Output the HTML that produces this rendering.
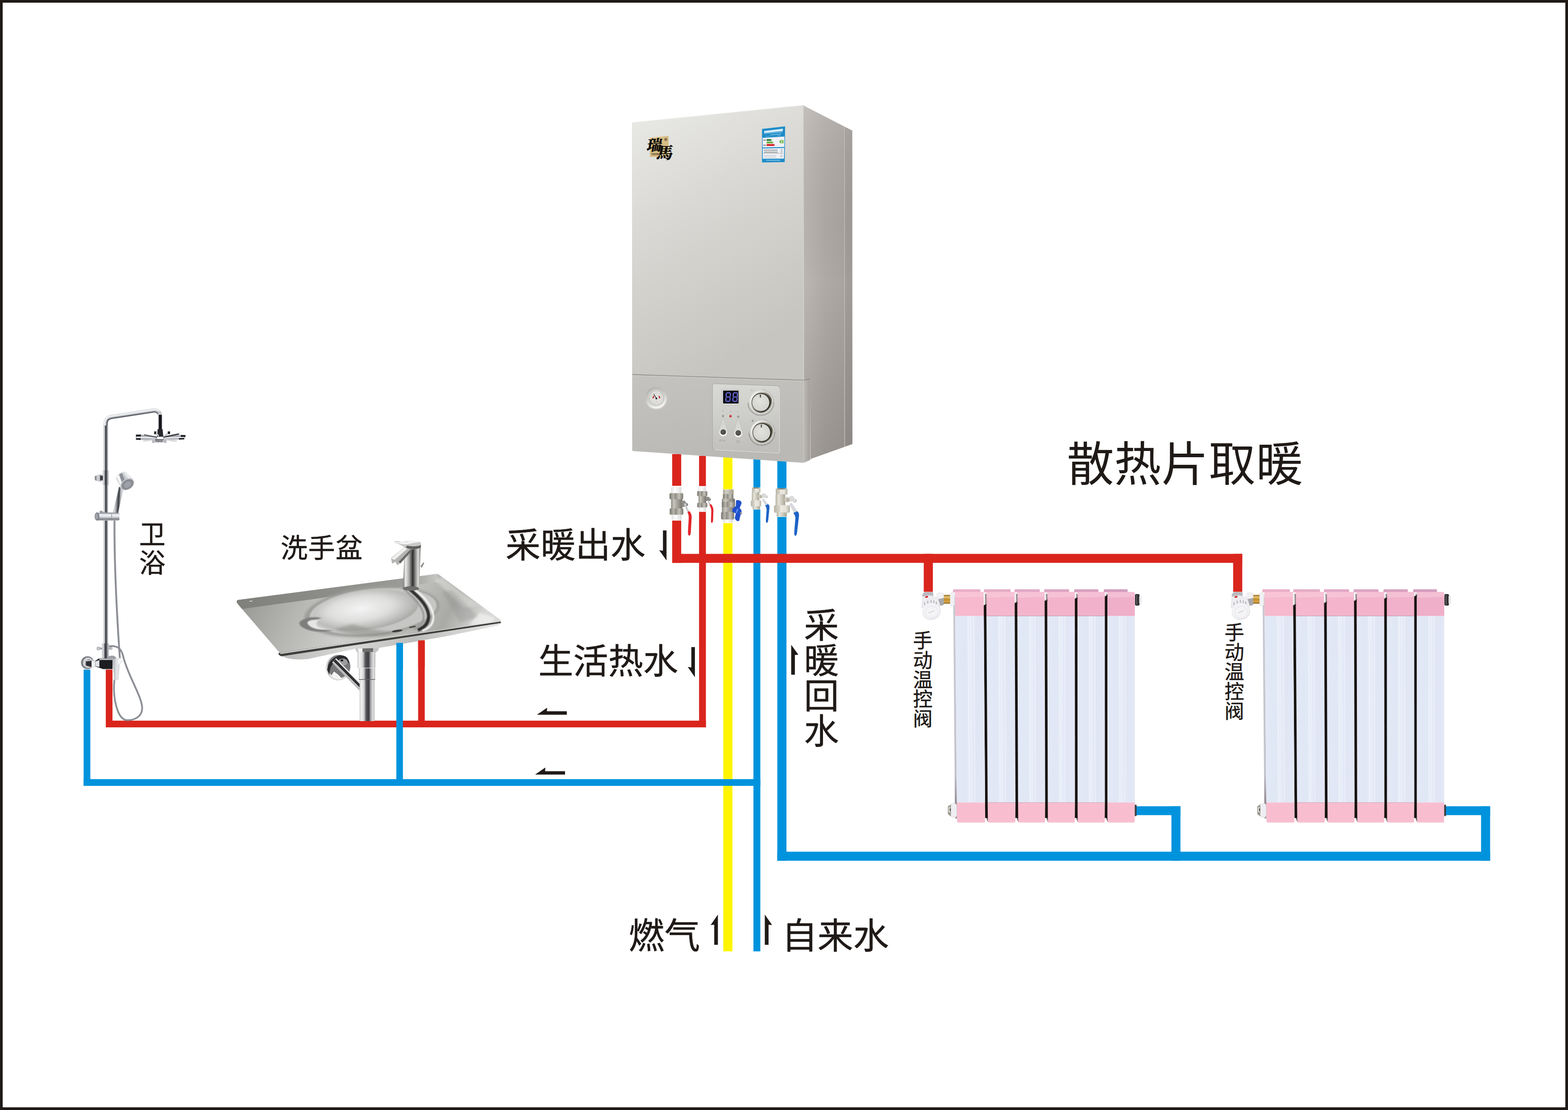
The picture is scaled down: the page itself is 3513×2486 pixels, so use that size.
<!DOCTYPE html>
<html><head><meta charset="utf-8"><title>diagram</title>
<style>html,body{margin:0;padding:0;background:#fff;width:3513px;height:2486px;font-family:"Liberation Sans",sans-serif}svg{display:block}</style>
</head><body>
<svg width="3513" height="2486" viewBox="0 0 3513 2486">
<defs>

<linearGradient id="bfU" x1="0" y1="0" x2="0.35" y2="1">
 <stop offset="0" stop-color="#EAEAE6"/><stop offset="0.45" stop-color="#D8D7D3"/><stop offset="1" stop-color="#C6C5C0"/>
</linearGradient>
<linearGradient id="bfL" x1="0" y1="0" x2="0.3" y2="1">
 <stop offset="0" stop-color="#C4C3BF"/><stop offset="1" stop-color="#BAB9B5"/>
</linearGradient>
<linearGradient id="bsU" x1="0" y1="0" x2="1" y2="0">
 <stop offset="0" stop-color="#BCB7B2"/><stop offset="0.45" stop-color="#AFAAA6"/><stop offset="1" stop-color="#A7A19D"/>
</linearGradient>
<linearGradient id="bsV" x1="0" y1="0" x2="0" y2="1">
 <stop offset="0" stop-color="#fff" stop-opacity="0.12"/><stop offset="0.5" stop-color="#000" stop-opacity="0"/><stop offset="1" stop-color="#000" stop-opacity="0.13"/>
</linearGradient>
<linearGradient id="bsS" x1="0" y1="0" x2="1" y2="0">
 <stop offset="0" stop-color="#BDBAB5"/><stop offset="1" stop-color="#A29E9A"/>
</linearGradient>
<radialGradient id="knobFace" cx="0.45" cy="0.4" r="0.7">
 <stop offset="0" stop-color="#E2E2DE"/><stop offset="1" stop-color="#CFCFCB"/>
</radialGradient>
<linearGradient id="knobRing" x1="0.1" y1="0.2" x2="0.9" y2="0.8">
 <stop offset="0" stop-color="#F4F4F1"/><stop offset="0.3" stop-color="#CFCEC8"/><stop offset="0.55" stop-color="#8A8678"/><stop offset="0.8" stop-color="#5A5648"/><stop offset="1" stop-color="#A9A69B"/>
</linearGradient>
<linearGradient id="knobIn" x1="0" y1="0" x2="1" y2="0.6">
 <stop offset="0" stop-color="#77746A"/><stop offset="0.45" stop-color="#4A473E"/><stop offset="1" stop-color="#2E2C26"/>
</linearGradient>
<radialGradient id="gaugeRec" cx="0.5" cy="0.45" r="0.5">
 <stop offset="0.55" stop-color="#C9C9C5"/><stop offset="0.85" stop-color="#D8D8D5"/><stop offset="1" stop-color="#BEBDB9" stop-opacity="0"/>
</radialGradient>
<linearGradient id="gaugeRecL" x1="0.2" y1="0" x2="0.6" y2="1">
 <stop offset="0" stop-color="#A3A29E"/><stop offset="0.45" stop-color="#C8C8C4"/><stop offset="0.8" stop-color="#F1F1EF"/><stop offset="1" stop-color="#FFFFFF"/>
</linearGradient>
<linearGradient id="btnRec" x1="0" y1="0" x2="0" y2="1">
 <stop offset="0" stop-color="#D0D0CC"/><stop offset="0.55" stop-color="#D8D8D5"/><stop offset="0.85" stop-color="#ECECEA"/><stop offset="1" stop-color="#FAFAF9"/>
</linearGradient>

<linearGradient id="panelG" x1="0" y1="0" x2="0.15" y2="1"><stop offset="0" stop-color="#D9D9D6"/><stop offset="0.5" stop-color="#CECECA"/><stop offset="1" stop-color="#C0BFBB"/></linearGradient>
<linearGradient id="gold" x1="0" y1="0" x2="1" y2="1"><stop offset="0" stop-color="#E3CB94"/><stop offset="0.5" stop-color="#D6BC84"/><stop offset="1" stop-color="#DCC58F"/></linearGradient>
<filter id="glow" x="-20%" y="-20%" width="140%" height="140%"><feGaussianBlur stdDeviation="0.45"/></filter>
<filter id="blur1" x="-20%" y="-20%" width="140%" height="140%"><feGaussianBlur stdDeviation="1.6"/></filter>
<filter id="blur2" x="-20%" y="-20%" width="140%" height="140%"><feGaussianBlur stdDeviation="2.2"/></filter>

<linearGradient id="stl" x1="0" y1="0" x2="1" y2="0">
 <stop offset="0" stop-color="#8B8981"/><stop offset="0.25" stop-color="#C9C7BE"/><stop offset="0.5" stop-color="#A9A79E"/><stop offset="0.78" stop-color="#8F8D85"/><stop offset="1" stop-color="#6E6C64"/>
</linearGradient>
<linearGradient id="stlN" x1="0" y1="0" x2="1" y2="0">
 <stop offset="0" stop-color="#77756D"/><stop offset="0.3" stop-color="#B9B7AE"/><stop offset="0.42" stop-color="#8D8B83"/><stop offset="0.7" stop-color="#C4C2B8"/><stop offset="1" stop-color="#77756D"/>
</linearGradient>
<linearGradient id="nik" x1="0" y1="0" x2="1" y2="0">
 <stop offset="0" stop-color="#B4B0A0"/><stop offset="0.3" stop-color="#E6E4DA"/><stop offset="0.6" stop-color="#CFCCBE"/><stop offset="1" stop-color="#A9A595"/>
</linearGradient>
<linearGradient id="nikN" x1="0" y1="0" x2="1" y2="0">
 <stop offset="0" stop-color="#B9B5A6"/><stop offset="0.38" stop-color="#D9D6CA"/><stop offset="0.4" stop-color="#ECEAE2"/><stop offset="0.75" stop-color="#E3E1D8"/><stop offset="1" stop-color="#B4B0A0"/>
</linearGradient>
<linearGradient id="wht" x1="0" y1="0" x2="1" y2="0">
 <stop offset="0" stop-color="#E4E4E4"/><stop offset="0.4" stop-color="#FFFFFF"/><stop offset="1" stop-color="#DADADA"/>
</linearGradient>

<linearGradient id="radBody" x1="0" y1="0" x2="1" y2="0">
 <stop offset="0" stop-color="#E3E9F6"/><stop offset="0.35" stop-color="#E0E7F5"/><stop offset="0.5" stop-color="#E6ECF8"/><stop offset="0.7" stop-color="#E0E6F4"/><stop offset="1" stop-color="#E2E8F5"/>
</linearGradient>
<linearGradient id="radSide" x1="0" y1="0" x2="0" y2="1">
 <stop offset="0" stop-color="#C9CAD2"/><stop offset="0.8" stop-color="#C3C3CC"/><stop offset="0.95" stop-color="#8E8088"/><stop offset="1" stop-color="#B0A6AC"/>
</linearGradient>
<linearGradient id="brass" x1="0" y1="0" x2="0" y2="1">
 <stop offset="0" stop-color="#8E6420"/><stop offset="0.25" stop-color="#E9C774"/><stop offset="0.5" stop-color="#C08A2A"/><stop offset="0.8" stop-color="#D9A84A"/><stop offset="1" stop-color="#7A5418"/>
</linearGradient>

<linearGradient id="chr" x1="0" y1="0" x2="1" y2="0">
 <stop offset="0" stop-color="#A9ACB1"/><stop offset="0.18" stop-color="#E6E7EA"/><stop offset="0.36" stop-color="#6F7278"/><stop offset="0.56" stop-color="#26282C"/><stop offset="0.72" stop-color="#7D8086"/><stop offset="1" stop-color="#C9CBD0"/>
</linearGradient>
<linearGradient id="chrH" x1="0" y1="0" x2="0" y2="1">
 <stop offset="0" stop-color="#8D9096"/><stop offset="0.25" stop-color="#F4F5F7"/><stop offset="0.55" stop-color="#D5D7DB"/><stop offset="0.8" stop-color="#7B7E84"/><stop offset="1" stop-color="#B9BBC0"/>
</linearGradient>
<linearGradient id="chrD" x1="0" y1="0" x2="1" y2="0">
 <stop offset="0" stop-color="#E9EAED"/><stop offset="0.3" stop-color="#F7F7F9"/><stop offset="0.45" stop-color="#2A2C30"/><stop offset="0.8" stop-color="#17181B"/><stop offset="1" stop-color="#6B6E74"/>
</linearGradient>

<linearGradient id="hsBody" x1="0" y1="0.8" x2="1" y2="0.2">
 <stop offset="0" stop-color="#9A9DA3"/><stop offset="0.25" stop-color="#F7F8F9"/><stop offset="0.5" stop-color="#B5B8BD"/><stop offset="0.75" stop-color="#F1F2F4"/><stop offset="1" stop-color="#A2A5AB"/>
</linearGradient>
<linearGradient id="hnd" x1="0" y1="0" x2="1" y2="0.12">
 <stop offset="0" stop-color="#9DA0A6"/><stop offset="0.25" stop-color="#DADBDF"/><stop offset="0.45" stop-color="#7B7E84"/><stop offset="0.62" stop-color="#33353A"/><stop offset="0.78" stop-color="#B9BBC0"/><stop offset="1" stop-color="#E9EAED"/>
</linearGradient>
<linearGradient id="lev" x1="0" y1="0" x2="1" y2="0">
 <stop offset="0" stop-color="#A9ACB2"/><stop offset="0.45" stop-color="#E6E7EA"/><stop offset="1" stop-color="#C3C5CA"/>
</linearGradient>

<linearGradient id="skTop" x1="0" y1="0" x2="1" y2="0.15">
 <stop offset="0" stop-color="#858582"/><stop offset="0.1" stop-color="#9C9C99"/><stop offset="0.28" stop-color="#B4B4B1"/><stop offset="0.5" stop-color="#CFCFCD"/><stop offset="0.72" stop-color="#BDBDBA"/><stop offset="0.86" stop-color="#A9A9A6"/><stop offset="1" stop-color="#D9D9D7"/>
</linearGradient>
<linearGradient id="skBack" x1="0" y1="0" x2="1" y2="0">
 <stop offset="0" stop-color="#7F7F7C"/><stop offset="0.5" stop-color="#8E8E8B"/><stop offset="0.85" stop-color="#9B9B98"/><stop offset="1" stop-color="#C9C9C7"/>
</linearGradient>
<radialGradient id="skBowlO" cx="0.5" cy="0.5" r="0.5">
 <stop offset="0.7" stop-color="#D9D9D7"/><stop offset="0.88" stop-color="#B3B3B0"/><stop offset="1" stop-color="#C8C8C5" stop-opacity="0"/>
</radialGradient>
<radialGradient id="skBowlI" cx="0.45" cy="0.45" r="0.6">
 <stop offset="0" stop-color="#F4F4F4"/><stop offset="0.5" stop-color="#DEDEDD"/><stop offset="0.82" stop-color="#B9B9B7"/><stop offset="1" stop-color="#A0A09D"/>
</radialGradient>
<linearGradient id="skFront" x1="0" y1="0" x2="1" y2="0">
 <stop offset="0" stop-color="#A9A9A6"/><stop offset="0.4" stop-color="#E4E4E2"/><stop offset="0.7" stop-color="#8A8A87"/><stop offset="1" stop-color="#5A5A58"/>
</linearGradient>
<linearGradient id="fauc" x1="0" y1="0" x2="1" y2="0">
 <stop offset="0" stop-color="#6B6B69"/><stop offset="0.15" stop-color="#ECECEB"/><stop offset="0.35" stop-color="#A9A9A7"/><stop offset="0.55" stop-color="#2F2F2E"/><stop offset="0.7" stop-color="#8A8A88"/><stop offset="0.86" stop-color="#E0E0DF"/><stop offset="1" stop-color="#7A7A78"/>
</linearGradient>
<linearGradient id="drain" x1="0" y1="0" x2="1" y2="0">
 <stop offset="0" stop-color="#C9C9C9"/><stop offset="0.12" stop-color="#F4F4F4"/><stop offset="0.3" stop-color="#D2D2D2"/><stop offset="0.44" stop-color="#56565A"/><stop offset="0.62" stop-color="#3C3C40"/><stop offset="0.74" stop-color="#A9A9AB"/><stop offset="0.9" stop-color="#E2E2E2"/><stop offset="1" stop-color="#B5B5B5"/>
</linearGradient>
<filter id="skBlur" x="-10%" y="-10%" width="120%" height="120%"><feGaussianBlur stdDeviation="2.5"/></filter>
<filter id="skBlur1" x="-10%" y="-10%" width="120%" height="120%"><feGaussianBlur stdDeviation="1.2"/></filter>
<clipPath id="skClip"><path d="M534 1343.6 L977.2 1285.6 Q981 1285.2 984 1287.6 L1119.6 1387 Q1123.4 1390 1119 1391.4 L630 1461.6 Q625.6 1462 623.4 1458.6 L530.8 1350.4 Q528.6 1344.6 534 1343.6 Z"/></clipPath>

<linearGradient id="skUnder" x1="0" y1="0" x2="1" y2="0">
 <stop offset="0" stop-color="#B9B9B7"/><stop offset="0.3" stop-color="#D9D9D7"/><stop offset="0.6" stop-color="#BDBDBB"/><stop offset="1" stop-color="#E6E6E4"/>
</linearGradient>
<linearGradient id="drainD" x1="0" y1="0" x2="1" y2="0">
 <stop offset="0" stop-color="#D9D9D7"/><stop offset="0.5" stop-color="#A3A3A1"/><stop offset="1" stop-color="#EDEDEC"/>
</linearGradient>

</defs>
<rect x="0" y="0" width="3513" height="2486" fill="#fff"/>
<rect x="1620.50" y="1023.00" width="20.50" height="1107.70" fill="#FFF500" /><rect x="1688.00" y="1027.00" width="15.50" height="1103.70" fill="#0093DD" /><rect x="187.40" y="1745.00" width="1516.10" height="15.00" fill="#0093DD" /><rect x="187.40" y="1499.70" width="15.00" height="260.30" fill="#0093DD" /><rect x="1741.50" y="1031.00" width="20.50" height="896.70" fill="#0093DD" /><rect x="1741.50" y="1907.50" width="1597.00" height="20.20" fill="#0093DD" /><rect x="2546.00" y="1805.70" width="98.70" height="19.90" fill="#0093DD" /><rect x="2624.50" y="1805.70" width="20.20" height="122.00" fill="#0093DD" /><rect x="3239.00" y="1805.70" width="99.50" height="19.90" fill="#0093DD" /><rect x="3318.20" y="1805.70" width="20.30" height="122.00" fill="#0093DD" /><rect x="1506.00" y="1017.00" width="20.20" height="243.50" fill="#DA251D" /><rect x="1506.00" y="1240.50" width="1277.20" height="20.10" fill="#DA251D" /><rect x="2069.60" y="1240.50" width="20.40" height="85.00" fill="#DA251D" /><rect x="2762.80" y="1240.50" width="20.40" height="85.00" fill="#DA251D" /><rect x="1566.20" y="1021.00" width="15.30" height="608.00" fill="#DA251D" /><rect x="237.00" y="1614.00" width="1344.50" height="15.00" fill="#DA251D" /><rect x="936.80" y="1434.30" width="14.80" height="194.70" fill="#DA251D" /><rect x="237.00" y="1499.70" width="15.00" height="129.30" fill="#DA251D" /><rect x="888.00" y="1439.80" width="14.70" height="320.20" fill="#0093DD" /><path d="M1799 235.7 L1909.5 292.5 L1909.8 994.5 L1816 1028 L1814.8 848.6 L1800.6 851 Z" fill="url(#bsU)"/><path d="M1799 235.7 L1909.5 292.5 L1909.8 994.5 L1816 1028 L1814.8 848.6 L1800.6 851 Z" fill="url(#bsV)"/><path d="M1892.4 284 V1000.5" stroke="#C9C5C1" stroke-width="1.3" fill="none"/><path d="M1893.6 284.5 V1000" stroke="#9C9793" stroke-width="1" fill="none" opacity="0.6"/><path d="M1893 284 L1909.5 292.5 L1909.8 994.5 L1893 1000.5 Z" fill="#000" opacity="0.035"/><path d="M1800.6 851 L1814.8 848.6 L1815.4 1030 L1800.6 1036.6 Z" fill="url(#bsS)"/><path d="M1416 274.5 L1799 235.7 L1800.6 851.4 L1416 838.7 Z" fill="url(#bfU)"/><path d="M1416 274.5 L1799 235.7" stroke="#EFEFEC" stroke-width="1.2" fill="none"/><path d="M1799.6 237 L1800.6 851" stroke="#D9D7D2" stroke-width="1.4" fill="none"/><path d="M1416 839 L1800.6 851.6 L1800.6 1036.6 L1419 1010.2 Q1416.2 1010 1416.2 1007 Z" fill="url(#bfL)"/><path d="M1416 838.9 L1800.6 851.5 L1814.8 848.9" stroke="#8C8A86" stroke-width="1.6" fill="none"/><path d="M1416 840.6 L1800.6 853.2" stroke="#D4D3CF" stroke-width="1.2" fill="none" opacity="0.8"/><path d="M1416.5 276 V1008" stroke="#DCDBD7" stroke-width="1" fill="none" opacity="0.7"/><path d="M1455.8 308.5 L1497.9 304.3 L1498.1 351.1 L1456 351.6 Z" fill="url(#gold)"/><g fill="#0B0906" stroke="#0B0906" stroke-width="0.8" stroke-linejoin="round" font-family="&quot;Liberation Serif&quot;, &quot;Noto Serif CJK SC&quot;, serif" font-weight="bold"><text x="1448" y="337" font-size="33" transform="translate(1448,337) skewX(-10) translate(-1448,-337)">瑞</text><text x="1470" y="355.5" font-size="36" transform="translate(1470,355.5) skewX(-10) translate(-1470,-355.5)">馬</text></g><circle cx="1491.7" cy="312.4" r="2.9" fill="none" stroke="#1a1509" stroke-width="0.7"/><text x="1490.1" y="314" font-family="Liberation Sans" font-size="4.2" font-weight="bold" fill="#1a1509">R</text><text x="1459" y="346.6" font-family="Liberation Serif" font-size="6.4" font-weight="bold" fill="#1a1509" textLength="20" lengthAdjust="spacingAndGlyphs">VOOMA</text><rect x="1461" y="348" width="14" height="0.6" fill="#C8502A" opacity="0.7"/><path d="M1707.3 288.8 L1759 282.9 L1758.1 363.1 L1707.3 363.8 Z" fill="#1E8CC8"/><path d="M1708.6 308.8 L1757.4 305.8 L1757.2 329.3 L1708.7 330.3 Z" fill="#EFF1F6"/><path d="M1708.8 332.6 L1756.9 331.6 L1756.5 355.2 L1709 355.6 Z" fill="#EFF1F6"/><path d="M1712 293.5 L1754 288.3 L1754 293.3 L1712 297.8 Z" fill="#E8F4FB" opacity="0.95"/><path d="M1712 298.6 L1753 294.6 L1753 296 L1712 299.8 Z" fill="#BEE0F2" opacity="0.8"/><path d="M1726 301.6 L1750 299.2 L1750 300.8 L1726 303 Z" fill="#BEE0F2" opacity="0.7"/><path d="M1716 305.2 L1725 304.4 L1725 305.4 L1716 306.2 Z M1742 303 L1749 302.4 L1749 303.6 L1742 304.2Z" fill="#BEE0F2" opacity="0.6"/><path d="M1717.6 311.6 H1727.2 L1729.2 313.6 L1727.2 315.6 H1717.6 Z" fill="#2F7A45"/><path d="M1717.6 317 H1730.8 L1732.8 319 L1730.8 321 H1717.6 Z" fill="#6DB33F"/><path d="M1717.6 322.6 H1734 L1736 324.8 L1734 327 H1717.6 Z" fill="#D62B2B"/><rect x="1710.3" y="313.2" width="5.6" height="1.2" fill="#333"/><rect x="1710.3" y="324.6" width="5.6" height="1.2" fill="#333"/><path d="M1745.3 317.5 L1749 313.8 H1755.3 V321 H1749 Z" fill="#6DB33F"/><text x="1749.2" y="320.3" font-family="Liberation Sans" font-size="7" font-weight="bold" fill="#fff">2</text><rect x="1711.3" y="335.6" width="31" height="1.5" fill="#555" opacity="0.75"/><rect x="1749.3" y="335.0" width="3.6" height="1.5" fill="#555" opacity="0.75"/><rect x="1711.3" y="339.9" width="31" height="1.5" fill="#555" opacity="0.75"/><rect x="1749.3" y="339.29999999999995" width="3.6" height="1.5" fill="#555" opacity="0.75"/><rect x="1710.3" y="342.9" width="44.5" height="0.6" fill="#666"/><rect x="1711.3" y="347.8" width="28" height="1.1" fill="#999" opacity="0.6"/><rect x="1748.3" y="347.2" width="5" height="1.1" fill="#777" opacity="0.7"/><rect x="1711.3" y="351.2" width="28" height="1.1" fill="#999" opacity="0.6"/><rect x="1748.3" y="350.59999999999997" width="5" height="1.1" fill="#777" opacity="0.7"/><rect x="1716.5" y="358.3" width="31.5" height="1.3" fill="#CDE9F7" opacity="0.85"/><path d="M1601.5 859.4 L1741 863.9 Q1746.3 864.1 1746.3 869.5 L1746.3 1009.5 Q1746.3 1015 1741 1014.7 L1601.5 1007.4 Q1596.2 1007.1 1596.2 1001.7 L1596.2 864.8 Q1596.2 859.2 1601.5 859.4 Z" fill="url(#panelG)" stroke="#A3A29E" stroke-width="1"/><path d="M1601.5 1007.4 L1741 1014.7 Q1746.3 1015 1746.3 1009.5 L1746.3 869.5" fill="none" stroke="#E6E6E3" stroke-width="1.1"/><rect x="1617.6" y="872.2" width="38.2" height="34.8" rx="1.5" fill="#E3E3E1"/><rect x="1617.6" y="872.2" width="38.2" height="34.8" rx="1.5" fill="none" stroke="#A8A8A4" stroke-width="0.7"/><rect x="1620" y="874.8" width="34.6" height="29" rx="1" fill="#0B0B12"/><g filter="url(#glow)"><g fill="#7A7CFF" transform="translate(1626.4,878.8) skewX(-4)"><rect x="1.40" y="0.00" width="8.40" height="2.00" rx="1.00"/><rect x="1.40" y="9.50" width="8.40" height="2.00" rx="1.00"/><rect x="1.40" y="19.00" width="8.40" height="2.00" rx="1.00"/><rect x="0.00" y="1.20" width="2.00" height="8.70" rx="1.00"/><rect x="0.00" y="11.10" width="2.00" height="8.70" rx="1.00"/><rect x="9.20" y="1.20" width="2.00" height="8.70" rx="1.00"/><rect x="9.20" y="11.10" width="2.00" height="8.70" rx="1.00"/></g><g fill="#7A7CFF" transform="translate(1642.2,878.8) skewX(-4)"><rect x="1.40" y="0.00" width="8.40" height="2.00" rx="1.00"/><rect x="1.40" y="9.50" width="8.40" height="2.00" rx="1.00"/><rect x="1.40" y="19.00" width="8.40" height="2.00" rx="1.00"/><rect x="0.00" y="1.20" width="2.00" height="8.70" rx="1.00"/><rect x="0.00" y="11.10" width="2.00" height="8.70" rx="1.00"/><rect x="9.20" y="1.20" width="2.00" height="8.70" rx="1.00"/><rect x="9.20" y="11.10" width="2.00" height="8.70" rx="1.00"/></g></g><path d="M1675.72 902.42 A29.2 29.2 0 0 0 1699.83 930.16" stroke="#8F8E8A" stroke-width="1.6" fill="none"/><path d="M1700.92 929.72 A28.599999999999998 28.599999999999998 0 0 0 1733.48 900.40" stroke="#7D7C78" stroke-width="2.6" stroke-dasharray="0.9 0.9" fill="none"/><path d="M1733.99 898.86 A29.2 29.2 0 0 0 1707.44 872.31" stroke="#A5A4A0" stroke-width="0.9" fill="none"/><circle cx="1705.2" cy="900.1999999999999" r="25" fill="url(#knobRing)"/><circle cx="1705.2" cy="900.1999999999999" r="25" fill="none" stroke="#F2F2EF" stroke-width="1.1" opacity="0.85"/><circle cx="1705.3000000000002" cy="901.0" r="21.6" fill="url(#knobIn)"/><circle cx="1704.4" cy="901.6" r="19.2" fill="url(#knobFace)"/><rect x="1702.5" y="883.8" width="2.3" height="6.4" fill="#3F3E39"/><path d="M1677.82 969.62 A29.2 29.2 0 0 0 1701.93 997.36" stroke="#8F8E8A" stroke-width="1.6" fill="none"/><path d="M1703.02 996.92 A28.599999999999998 28.599999999999998 0 0 0 1735.58 967.60" stroke="#7D7C78" stroke-width="2.6" stroke-dasharray="0.9 0.9" fill="none"/><path d="M1736.09 966.06 A29.2 29.2 0 0 0 1709.54 939.51" stroke="#A5A4A0" stroke-width="0.9" fill="none"/><circle cx="1707.3" cy="967.4" r="25" fill="url(#knobRing)"/><circle cx="1707.3" cy="967.4" r="25" fill="none" stroke="#F2F2EF" stroke-width="1.1" opacity="0.85"/><circle cx="1707.4" cy="968.2" r="21.6" fill="url(#knobIn)"/><circle cx="1706.5" cy="968.8000000000001" r="19.2" fill="url(#knobFace)"/><rect x="1704.6" y="951.0" width="2.3" height="6.4" fill="#3F3E39"/><path d="M1681.5 874.5 q2 -1.5 4 0 l1.8 1.2" stroke="#8B8A86" stroke-width="0.8" fill="none"/><path d="M1684.5 941.2 h4 M1684.2 942.6 h4 M1683.9 944 h4" stroke="#7B7A76" stroke-width="0.8" fill="none"/><circle cx="1619.3" cy="920.6" r="1.4" fill="#B3B3AF"/><circle cx="1636.6" cy="921.4" r="1.4" fill="#B3B3AF"/><circle cx="1652.6" cy="922.2" r="1.4" fill="#B3B3AF"/><circle cx="1619.6" cy="931.3" r="2.4" fill="#7D7C76"/><circle cx="1619" cy="930.6" r="1.1" fill="#EDEDE8"/><circle cx="1636.6" cy="931.9" r="2.6" fill="#C8201E"/><circle cx="1636" cy="931.2" r="0.9" fill="#F5A49A"/><circle cx="1653.7" cy="933" r="2.4" fill="#7D7C76"/><circle cx="1653.1" cy="932.3" r="1.1" fill="#EDEDE8"/><path d="M1618.1 936.6 Q1620.3 934.1 1622.5 936.6 Q1625.8 953.6 1629.3 964.6 A9.6 9.6 0 1 1 1611.3 964.6 Q1614.8 953.6 1618.1 936.6 Z" fill="url(#btnRec)" stroke="#B9B8B4" stroke-width="0.6"/><circle cx="1620.3" cy="967.6" r="6.2" fill="#4B4946"/><circle cx="1619.5" cy="966.6" r="4.2" fill="#5A5855"/><path d="M1651.7 938.7 Q1653.9 936.2 1656.1000000000001 938.7 Q1659.4 955.7 1662.9 966.7 A9.6 9.6 0 1 1 1644.9 966.7 Q1648.4 955.7 1651.7 938.7 Z" fill="url(#btnRec)" stroke="#B9B8B4" stroke-width="0.6"/><circle cx="1653.9" cy="969.7" r="6.2" fill="#4B4946"/><circle cx="1653.1000000000001" cy="968.7" r="4.2" fill="#5A5855"/><circle cx="1613.7" cy="986.6" r="1.9" fill="none" stroke="#8A8985" stroke-width="0.6"/><path d="M1616.8 989 l1.6 -4.8" stroke="#8A8985" stroke-width="0.6"/><circle cx="1622.6" cy="986.9" r="1.5" fill="none" stroke="#8A8985" stroke-width="0.6"/><path d="M1651.6 986.3 a3 3 0 1 0 4.2 0.2 M1653.7 984.4 v3.4" stroke="#8A8985" stroke-width="0.7" fill="none"/><circle cx="1469.8" cy="891.8" r="23.8" fill="url(#gaugeRecL)" filter="url(#blur1)"/><circle cx="1469.9" cy="890.6" r="19.6" fill="#CDCDC9" filter="url(#blur1)"/><circle cx="1470.6" cy="891.5" r="15.6" fill="#A9A8A3"/><circle cx="1470.6" cy="891.5" r="14.9" fill="#EDEDEA"/><circle cx="1470.6" cy="891.5" r="12.6" fill="#B9B8B3"/><circle cx="1470.6" cy="891.5" r="11.8" fill="#E1E1DE"/><path d="M1463.01 892.10 A7.6 7.6 0 0 1 1465.23 887.13" stroke="#C21B1B" stroke-width="2.4" fill="none"/><path d="M1475.97 887.13 A7.6 7.6 0 0 1 1478.19 892.10" stroke="#C21B1B" stroke-width="2.4" fill="none"/><path d="M1470.9 892.6 L1464.6 882.6" stroke="#1E1E1E" stroke-width="1.3"/><circle cx="1470.6" cy="892.4" r="2" fill="#1E1E1E"/><rect x="1469.3" y="898.3" width="2.2" height="0.8" fill="#C65B5B"/><rect x="1503" y="1088" width="27.00" height="78.00" rx="0" fill="#fff"/><rect x="1503.2" y="1091" width="23.60" height="15.00" rx="2" fill="url(#wht)"/><rect x="1504.6" y="1151" width="22.60" height="14.60" rx="2" fill="url(#wht)"/><rect x="1503.5" y="1116" width="25.30" height="24.00" rx="2" fill="url(#stl)"/><rect x="1500" y="1104.4" width="30.60" height="13.80" rx="2.5" fill="url(#stlN)"/><rect x="1500.4" y="1138.4" width="30.60" height="14.40" rx="2.5" fill="url(#stlN)"/><path d="M1526 1122 L1534 1121 L1537 1126 V1134 L1528 1136 Z" fill="#8F8D85"/><circle cx="1537.5" cy="1130" r="3.6" fill="#6B6962"/><circle cx="1537" cy="1129.2" r="1.6" fill="#D9D7CF"/><path d="M1532 1128.5 L1535.6 1127 L1544.5 1146 L1540.6 1148.5 Z" fill="#C9CBCE"/><path d="M1540.3 1147.6 L1544.4 1144.6 Q1549.8 1151 1549.7 1158 L1547.6 1194 Q1546.6 1200.6 1543.4 1199.4 Q1541 1198 1541.4 1190 L1543 1160 Q1543.3 1153 1540.3 1147.6 Z" fill="#E3262B"/><rect x="1563.5" y="1088.6" width="21.00" height="57.80" rx="0" fill="#fff"/><rect x="1564.2" y="1090.5" width="17.60" height="11.00" rx="1.6" fill="url(#wht)"/><rect x="1565.6" y="1135.4" width="16.00" height="9.80" rx="1.6" fill="url(#wht)"/><rect x="1565" y="1110" width="17.00" height="17.40" rx="1.5" fill="url(#stl)"/><rect x="1562" y="1100" width="22.70" height="11.20" rx="2" fill="url(#stlN)"/><rect x="1562" y="1126.2" width="22.70" height="10.20" rx="2" fill="url(#stlN)"/><path d="M1581 1112 L1589 1113 L1591 1118 L1590 1122 L1582 1122 Z" fill="#8F8D85"/><circle cx="1589.6" cy="1118.4" r="2.7" fill="#6B6962"/><circle cx="1589.2" cy="1117.8" r="1.2" fill="#D9D7CF"/><path d="M1584.6 1121.5 L1588 1120.5 L1593 1130 L1589.8 1131.8 Z" fill="#C9CBCE"/><path d="M1589.4 1131 L1592.8 1128.8 Q1598.6 1136 1598.3 1143 L1597.6 1166 Q1596.6 1172 1594.2 1171 Q1592.4 1169.8 1593 1163 L1593.6 1144 Q1593.4 1137 1589.4 1131 Z" fill="#E3262B"/><rect x="1615" y="1095.8" width="32.00" height="75.80" rx="0" fill="#fff"/><rect x="1620" y="1096" width="23.60" height="11.00" rx="1" fill="url(#nik)"/><rect x="1620" y="1098.3" width="23.6" height="0.8" fill="#8E8C82" opacity="0.7"/><rect x="1620" y="1100.5" width="23.6" height="0.8" fill="#8E8C82" opacity="0.7"/><rect x="1620" y="1102.7" width="23.6" height="0.8" fill="#8E8C82" opacity="0.7"/><rect x="1620" y="1104.9" width="23.6" height="0.8" fill="#8E8C82" opacity="0.7"/><rect x="1619.6" y="1106.4" width="23.40" height="11.00" rx="1" fill="url(#stlN)"/><rect x="1620.2" y="1161.6" width="22.00" height="8.80" rx="1.5" fill="url(#wht)"/><rect x="1617.3" y="1116.6" width="29.30" height="32.40" rx="2.5" fill="url(#stl)"/><rect x="1617.3" y="1124" width="29.30" height="12.00" rx="1" fill="url(#stlN)"/><rect x="1615.5" y="1146.6" width="29.30" height="16.80" rx="3" fill="url(#stlN)"/><path d="M1649 1121 Q1653 1118.6 1660 1122.5 L1661.6 1127 L1657 1138 L1660.6 1141.4 L1662.4 1150 L1659 1153.6 L1656 1166.4 Q1653 1168.4 1648.6 1165 L1646.2 1160 L1648.5 1150 L1640.8 1146 L1641.4 1139.5 L1648.6 1133.5 Z" fill="#1F4FCB"/><path d="M1651.6 1139 L1655 1140.4 L1651 1149.5 L1647.6 1148 Z" fill="#5C86EE"/><circle cx="1660" cy="1149" r="2.4" fill="#9A9890"/><rect x="1682" y="1091.6" width="24.00" height="49.60" rx="0" fill="#fff"/><rect x="1684.8" y="1092.2" width="18.80" height="11.20" rx="1.5" fill="url(#nikN)"/><rect x="1684.4" y="1102.6" width="16.80" height="19.40" rx="1.5" fill="url(#nik)"/><rect x="1682.2" y="1120.4" width="23.20" height="14.20" rx="2.5" fill="url(#nikN)"/><rect x="1686" y="1133.8" width="17.00" height="7.00" rx="1.5" fill="url(#nik)"/><ellipse cx="1694" cy="1092.8" rx="7.6" ry="1.2" fill="#7E7A6C"/><circle cx="1703.8" cy="1112" r="4.6" fill="#D4D1C5"/><circle cx="1704.6" cy="1112.4" r="3.2" fill="#B9B5A7"/><path d="M1706.8 1106 L1713 1104.6 L1716.8 1109 L1714.4 1114 L1708 1115 Z" fill="#DADADA"/><circle cx="1717" cy="1112.4" r="3" fill="#C8C8C8"/><circle cx="1716.4" cy="1111.6" r="1.3" fill="#F6F6F6"/><path d="M1706.6 1118.4 L1710.6 1116.6 L1721.6 1129.6 L1715.6 1132.4 Z" fill="#D6D8DC"/><path d="M1714.2 1132.2 L1720.8 1129 Q1724.4 1131.4 1724 1137 L1721 1166 Q1719.6 1172 1717.4 1171 Q1715.6 1169.6 1716 1163 L1717.6 1142 Q1717.4 1136 1714.2 1132.2 Z" fill="#1E63C6"/><rect x="1734" y="1093.4" width="36.00" height="64.40" rx="0" fill="#fff"/><rect x="1738" y="1094" width="26.20" height="14.00" rx="2" fill="url(#nikN)"/><rect x="1737.6" y="1107" width="21.80" height="26.40" rx="2" fill="url(#nik)"/><rect x="1734" y="1131.4" width="35.80" height="17.20" rx="3.5" fill="url(#nikN)"/><rect x="1740" y="1147.6" width="22.80" height="9.60" rx="2" fill="url(#nik)"/><ellipse cx="1751" cy="1094.8" rx="10.4" ry="1.5" fill="#7E7A6C"/><circle cx="1764" cy="1119" r="6.2" fill="#D4D1C5"/><circle cx="1765" cy="1119.6" r="4.4" fill="#B9B5A7"/><path d="M1768.4 1112 L1776 1110 L1780 1115.6 L1777.4 1122.6 L1770 1124 Z" fill="#DADADA"/><circle cx="1781" cy="1121.4" r="4" fill="#C8C8C8"/><circle cx="1780.2" cy="1120.4" r="1.7" fill="#F6F6F6"/><path d="M1768 1128.4 L1773.6 1126 L1787 1145.6 L1779 1149.2 Z" fill="#D6D8DC"/><path d="M1777.2 1149 L1786 1145 Q1790.6 1148 1790.2 1155 L1785.6 1194 Q1784 1201 1781.4 1200 Q1779 1198.4 1779.6 1190 L1782 1160 Q1781.6 1153.6 1777.2 1149 Z" fill="#1E63C6"/><g transform="translate(0,0)"><path d="M2135.5 1319.8 H2196.3 L2196.9 1326.4 H2134.7 Z" fill="#E9AFC8"/><path d="M2204.8 1319.8 H2263.9 L2264.5 1326.4 H2204.0 Z" fill="#E6ACC6"/><path d="M2273.5 1319.8 H2329.2 L2329.8 1326.4 H2272.7 Z" fill="#E2A9C4"/><path d="M2339.9 1319.8 H2395.1 L2395.7 1326.4 H2339.1 Z" fill="#DDA5C2"/><path d="M2406.9 1319.8 H2460.5 L2461.1 1326.4 H2406.1 Z" fill="#D8A1C0"/><path d="M2473.4 1319.8 H2526.0 L2526.6 1326.4 H2472.6 Z" fill="#D39DBE"/><path d="M2135.5 1337 L2139.7 1333 L2144.2 1834.3 L2139.6 1832.3 Z" fill="url(#radSide)"/><path d="M2203.8 1352 L2481.2 1332 L2481.4 1832 L2207.2 1832 Z" fill="#17130F"/><path d="M2140.17 1379.6 L2204.25 1379.6 L2207.00 1797.2 L2143.81 1797.2 Z" fill="url(#radBody)"/><path d="M2167.73 1379.6 L2169.93 1379.6 L2173.18 1797.2 L2170.98 1797.2 Z" fill="#F7F9FE" opacity="0.55"/><path d="M2173.49 1379.6 L2174.89 1379.6 L2178.07 1797.2 L2176.67 1797.2 Z" fill="#F7F9FE" opacity="0.45"/><path d="M2179.90 1379.6 L2182.90 1379.6 L2185.99 1797.2 L2182.99 1797.2 Z" fill="#F7F9FE" opacity="0.35"/><path d="M2140.90 1325.8 L2202.70 1325.8 Q2203.90 1325.8 2203.90 1327.0 L2204.25 1379.6 L2140.17 1379.6 L2139.70 1327.0 Z" fill="#F6B9CE"/><path d="M2140.90 1325.8 L2202.70 1325.8 Q2203.90 1325.8 2203.90 1327.0 L2203.90 1336.8 L2139.70 1338.8 Z" fill="#FBD3DF" opacity="0.45"/><path d="M2143.81 1797.2 L2207.00 1797.2 L2206.80 1840.3 Q2206.70 1842.3 2204.80 1842.3 L2146.20 1842.3 Q2144.20 1842.3 2144.40 1840.3 Z" fill="#F8BED0"/><path d="M2210.05 1379.6 L2273.51 1379.6 L2275.13 1797.2 L2212.80 1797.2 Z" fill="url(#radBody)"/><path d="M2237.34 1379.6 L2239.54 1379.6 L2241.80 1797.2 L2239.60 1797.2 Z" fill="#F7F9FE" opacity="0.55"/><path d="M2243.05 1379.6 L2244.45 1379.6 L2246.61 1797.2 L2245.21 1797.2 Z" fill="#F7F9FE" opacity="0.45"/><path d="M2249.40 1379.6 L2252.40 1379.6 L2254.44 1797.2 L2251.44 1797.2 Z" fill="#F7F9FE" opacity="0.35"/><path d="M2210.90 1325.8 L2272.10 1325.8 Q2273.30 1325.8 2273.30 1327.0 L2273.51 1379.6 L2210.05 1379.6 L2209.70 1327.0 Z" fill="#F5B7CD"/><path d="M2210.90 1325.8 L2272.10 1325.8 Q2273.30 1325.8 2273.30 1327.0 L2273.30 1336.8 L2209.70 1338.8 Z" fill="#FBD3DF" opacity="0.45"/><path d="M2212.80 1797.2 L2275.13 1797.2 L2274.80 1840.3 Q2274.70 1842.3 2272.80 1842.3 L2215.10 1842.3 Q2213.10 1842.3 2213.30 1840.3 Z" fill="#F8BED0"/><path d="M2203.40 1326.8 L2209.70 1328.8 L2210.30 1352 L2203.90 1356 Z" fill="#F3F1F4"/><path d="M2207.00 1329.8 L2210.10 1330.8 L2210.50 1358 L2207.40 1358 Z" fill="#3a3434" opacity="0.55"/><path d="M2207.00 1832 L2213.40 1832 L2213.40 1843.3 L2207.00 1843.3 Z" fill="#fff"/><path d="M2209.70 1832 L2213.40 1832 L2213.40 1841.3 Z" fill="#3b3030" opacity="0.8"/><path d="M2279.31 1379.6 L2340.55 1379.6 L2341.68 1797.2 L2280.93 1797.2 Z" fill="url(#radBody)"/><path d="M2305.64 1379.6 L2307.84 1379.6 L2309.25 1797.2 L2307.05 1797.2 Z" fill="#F7F9FE" opacity="0.55"/><path d="M2311.15 1379.6 L2312.55 1379.6 L2313.92 1797.2 L2312.52 1797.2 Z" fill="#F7F9FE" opacity="0.45"/><path d="M2317.28 1379.6 L2320.28 1379.6 L2321.59 1797.2 L2318.59 1797.2 Z" fill="#F7F9FE" opacity="0.35"/><path d="M2280.30 1325.8 L2339.20 1325.8 Q2340.40 1325.8 2340.40 1327.0 L2340.55 1379.6 L2279.31 1379.6 L2279.10 1327.0 Z" fill="#F4B5CC"/><path d="M2280.30 1325.8 L2339.20 1325.8 Q2340.40 1325.8 2340.40 1327.0 L2340.40 1336.8 L2279.10 1338.8 Z" fill="#FBD3DF" opacity="0.45"/><path d="M2280.93 1797.2 L2341.68 1797.2 L2341.30 1840.3 Q2341.20 1842.3 2339.30 1842.3 L2283.10 1842.3 Q2281.10 1842.3 2281.30 1840.3 Z" fill="#F8BED0"/><path d="M2272.80 1326.8 L2279.10 1328.8 L2279.70 1347 L2273.30 1351 Z" fill="#F3F1F4"/><path d="M2276.40 1329.8 L2279.50 1330.8 L2279.90 1353 L2276.80 1353 Z" fill="#3a3434" opacity="0.55"/><path d="M2275.00 1832 L2281.40 1832 L2281.40 1843.3 L2275.00 1843.3 Z" fill="#fff"/><path d="M2277.70 1832 L2281.40 1832 L2281.40 1841.3 Z" fill="#3b3030" opacity="0.8"/><path d="M2346.35 1379.6 L2408.14 1379.6 L2408.47 1797.2 L2347.48 1797.2 Z" fill="url(#radBody)"/><path d="M2372.92 1379.6 L2375.12 1379.6 L2375.90 1797.2 L2373.70 1797.2 Z" fill="#F7F9FE" opacity="0.55"/><path d="M2378.48 1379.6 L2379.88 1379.6 L2380.59 1797.2 L2379.19 1797.2 Z" fill="#F7F9FE" opacity="0.45"/><path d="M2384.66 1379.6 L2387.66 1379.6 L2388.29 1797.2 L2385.29 1797.2 Z" fill="#F7F9FE" opacity="0.35"/><path d="M2347.40 1325.8 L2406.90 1325.8 Q2408.10 1325.8 2408.10 1327.0 L2408.14 1379.6 L2346.35 1379.6 L2346.20 1327.0 Z" fill="#F3B3CB"/><path d="M2347.40 1325.8 L2406.90 1325.8 Q2408.10 1325.8 2408.10 1327.0 L2408.10 1336.8 L2346.20 1338.8 Z" fill="#FBD3DF" opacity="0.45"/><path d="M2347.48 1797.2 L2408.47 1797.2 L2408.00 1840.3 Q2407.90 1842.3 2406.00 1842.3 L2349.60 1842.3 Q2347.60 1842.3 2347.80 1840.3 Z" fill="#F8BED0"/><path d="M2339.90 1326.8 L2346.20 1328.8 L2346.80 1342 L2340.40 1346 Z" fill="#F3F1F4"/><path d="M2343.50 1329.8 L2346.60 1330.8 L2347.00 1348 L2343.90 1348 Z" fill="#3a3434" opacity="0.55"/><path d="M2341.50 1832 L2347.90 1832 L2347.90 1843.3 L2341.50 1843.3 Z" fill="#fff"/><path d="M2344.20 1832 L2347.90 1832 L2347.90 1841.3 Z" fill="#3b3030" opacity="0.8"/><path d="M2413.94 1379.6 L2475.32 1379.6 L2475.48 1797.2 L2414.27 1797.2 Z" fill="url(#radBody)"/><path d="M2440.33 1379.6 L2442.53 1379.6 L2442.79 1797.2 L2440.59 1797.2 Z" fill="#F7F9FE" opacity="0.55"/><path d="M2445.86 1379.6 L2447.26 1379.6 L2447.50 1797.2 L2446.10 1797.2 Z" fill="#F7F9FE" opacity="0.45"/><path d="M2452.00 1379.6 L2455.00 1379.6 L2455.22 1797.2 L2452.22 1797.2 Z" fill="#F7F9FE" opacity="0.35"/><path d="M2415.10 1325.8 L2474.10 1325.8 Q2475.30 1325.8 2475.30 1327.0 L2475.32 1379.6 L2413.94 1379.6 L2413.90 1327.0 Z" fill="#F1B1CA"/><path d="M2415.10 1325.8 L2474.10 1325.8 Q2475.30 1325.8 2475.30 1327.0 L2475.30 1336.8 L2413.90 1338.8 Z" fill="#FBD3DF" opacity="0.45"/><path d="M2414.27 1797.2 L2475.48 1797.2 L2475.00 1840.3 Q2474.90 1842.3 2473.00 1842.3 L2416.30 1842.3 Q2414.30 1842.3 2414.50 1840.3 Z" fill="#F8BED0"/><path d="M2407.60 1326.8 L2413.90 1328.8 L2414.50 1337 L2408.10 1341 Z" fill="#F3F1F4"/><path d="M2411.20 1329.8 L2414.30 1330.8 L2414.70 1343 L2411.60 1343 Z" fill="#3a3434" opacity="0.55"/><path d="M2408.20 1832 L2414.60 1832 L2414.60 1843.3 L2408.20 1843.3 Z" fill="#fff"/><path d="M2410.90 1832 L2414.60 1832 L2414.60 1841.3 Z" fill="#3b3030" opacity="0.8"/><path d="M2481.12 1379.6 L2542.60 1379.6 L2542.60 1797.2 L2481.28 1797.2 Z" fill="url(#radBody)"/><path d="M2507.56 1379.6 L2509.76 1379.6 L2509.85 1797.2 L2507.65 1797.2 Z" fill="#F7F9FE" opacity="0.55"/><path d="M2513.09 1379.6 L2514.49 1379.6 L2514.57 1797.2 L2513.17 1797.2 Z" fill="#F7F9FE" opacity="0.45"/><path d="M2519.24 1379.6 L2522.24 1379.6 L2522.30 1797.2 L2519.30 1797.2 Z" fill="#F7F9FE" opacity="0.35"/><path d="M2482.30 1325.8 L2537.60 1325.8 Q2542.60 1325.8 2542.60 1330.8 L2542.60 1379.6 L2481.12 1379.6 L2481.10 1327.0 Z" fill="#EFAFC9"/><path d="M2482.30 1325.8 L2537.60 1325.8 Q2542.60 1325.8 2542.60 1330.8 L2542.60 1336.8 L2481.10 1338.8 Z" fill="#FBD3DF" opacity="0.45"/><path d="M2481.28 1797.2 L2542.60 1797.2 L2542.10 1840.3 Q2542.00 1842.3 2540.10 1842.3 L2483.30 1842.3 Q2481.30 1842.3 2481.50 1840.3 Z" fill="#F8BED0"/><path d="M2474.80 1326.8 L2481.10 1328.8 L2481.70 1332 L2475.30 1336 Z" fill="#F3F1F4"/><path d="M2478.40 1329.8 L2481.50 1330.8 L2481.90 1338 L2478.80 1338 Z" fill="#3a3434" opacity="0.55"/><path d="M2475.20 1832 L2481.60 1832 L2481.60 1843.3 L2475.20 1843.3 Z" fill="#fff"/><path d="M2477.90 1832 L2481.60 1832 L2481.60 1841.3 Z" fill="#3b3030" opacity="0.8"/><rect x="2543.0" y="1330.6" width="10" height="25.6" rx="2.4" fill="#2E2E31"/><rect x="2545.6" y="1333" width="2.2" height="21" fill="#6F6F73" opacity="0.8"/><rect x="2552.4" y="1334.4" width="4.6" height="17.6" rx="1.8" fill="#EDEDF0" stroke="#C9C9CE" stroke-width="0.5"/><rect x="2542.2999999999997" y="1802" width="4.2" height="26" rx="2" fill="#3F3F42"/><rect x="2130" y="1799.5" width="13.6" height="31" rx="5" fill="#EEEEF2" stroke="#CFCFD6" stroke-width="0.6"/><path d="M2123.6 1806 L2130.4 1801.6 V1828.6 L2123.8 1823.5 Z" fill="#9E9A90"/><rect x="2125.6" y="1808" width="3.2" height="11" fill="#E9E9E6"/><rect x="2127.8" y="1810.5" width="2" height="6" fill="#3C3A36"/><path d="M2066 1336 Q2066 1325.5 2076 1325.5 H2089.8 Q2092 1330 2090 1336 Z" fill="#B9B9BE"/><path d="M2098.9 1329.5 L2104 1327 L2113.8 1328.5 V1341 L2105 1343.2 L2098.9 1339.8 Z" fill="#F2F2F5" stroke="#CFCFD6" stroke-width="0.5"/><path d="M2102 1341.8 L2114.8 1339 V1354.6 L2106.5 1357 Z" fill="#A7A7AD"/><rect x="2114.6" y="1332.4" width="14.6" height="19.6" fill="url(#brass)"/><rect x="2128.8" y="1327.6" width="9.6" height="29" rx="3.4" fill="#F1F1F4" stroke="#D2D2D8" stroke-width="0.6"/><path d="M2066.4 1338.5 Q2082 1328 2100.5 1340 L2106.5 1366 Q2090 1352 2064.8 1362 Z" fill="#EDEDF1" stroke="#D0D0D6" stroke-width="0.5"/><rect x="2070.6" y="1348.8" width="1.8" height="6.4" rx="0.9" fill="#8F9096" opacity="0.75"/><rect x="2077.7" y="1345.2" width="1.8" height="6.4" rx="0.9" fill="#8F9096" opacity="0.75"/><rect x="2084.9" y="1343.8" width="1.8" height="6.4" rx="0.9" fill="#8F9096" opacity="0.75"/><rect x="2091.2999999999997" y="1344.6" width="1.8" height="6.4" rx="0.9" fill="#8F9096" opacity="0.75"/><rect x="2096.9" y="1347.3999999999999" width="1.8" height="6.4" rx="0.9" fill="#8F9096" opacity="0.75"/><ellipse cx="2087" cy="1369.4" rx="20.6" ry="18.6" transform="rotate(-18 2087 1369.4)" fill="#DCDCE1"/><ellipse cx="2086.6" cy="1368.6" rx="19.6" ry="17.6" transform="rotate(-18 2086.6 1368.6)" fill="#F4F4F7"/><ellipse cx="2087.4" cy="1370.6" rx="14.6" ry="13" transform="rotate(-18 2087.4 1370.6)" fill="none" stroke="#E2E2E7" stroke-width="1"/><path d="M2080.4 1372.6 L2093.6 1367.6" stroke="#B9B9BF" stroke-width="1"/><rect x="2072.8" y="1335.2" width="6.6" height="3.4" rx="1.6" transform="rotate(-14 2076 1337)" fill="#D4141C"/></g><g transform="translate(693.2,0)"><path d="M2135.5 1319.8 H2196.3 L2196.9 1326.4 H2134.7 Z" fill="#E9AFC8"/><path d="M2204.8 1319.8 H2263.9 L2264.5 1326.4 H2204.0 Z" fill="#E6ACC6"/><path d="M2273.5 1319.8 H2329.2 L2329.8 1326.4 H2272.7 Z" fill="#E2A9C4"/><path d="M2339.9 1319.8 H2395.1 L2395.7 1326.4 H2339.1 Z" fill="#DDA5C2"/><path d="M2406.9 1319.8 H2460.5 L2461.1 1326.4 H2406.1 Z" fill="#D8A1C0"/><path d="M2473.4 1319.8 H2526.0 L2526.6 1326.4 H2472.6 Z" fill="#D39DBE"/><path d="M2135.5 1337 L2139.7 1333 L2144.2 1834.3 L2139.6 1832.3 Z" fill="url(#radSide)"/><path d="M2203.8 1352 L2481.2 1332 L2481.4 1832 L2207.2 1832 Z" fill="#17130F"/><path d="M2140.17 1379.6 L2204.25 1379.6 L2207.00 1797.2 L2143.81 1797.2 Z" fill="url(#radBody)"/><path d="M2167.73 1379.6 L2169.93 1379.6 L2173.18 1797.2 L2170.98 1797.2 Z" fill="#F7F9FE" opacity="0.55"/><path d="M2173.49 1379.6 L2174.89 1379.6 L2178.07 1797.2 L2176.67 1797.2 Z" fill="#F7F9FE" opacity="0.45"/><path d="M2179.90 1379.6 L2182.90 1379.6 L2185.99 1797.2 L2182.99 1797.2 Z" fill="#F7F9FE" opacity="0.35"/><path d="M2140.90 1325.8 L2202.70 1325.8 Q2203.90 1325.8 2203.90 1327.0 L2204.25 1379.6 L2140.17 1379.6 L2139.70 1327.0 Z" fill="#F6B9CE"/><path d="M2140.90 1325.8 L2202.70 1325.8 Q2203.90 1325.8 2203.90 1327.0 L2203.90 1336.8 L2139.70 1338.8 Z" fill="#FBD3DF" opacity="0.45"/><path d="M2143.81 1797.2 L2207.00 1797.2 L2206.80 1840.3 Q2206.70 1842.3 2204.80 1842.3 L2146.20 1842.3 Q2144.20 1842.3 2144.40 1840.3 Z" fill="#F8BED0"/><path d="M2210.05 1379.6 L2273.51 1379.6 L2275.13 1797.2 L2212.80 1797.2 Z" fill="url(#radBody)"/><path d="M2237.34 1379.6 L2239.54 1379.6 L2241.80 1797.2 L2239.60 1797.2 Z" fill="#F7F9FE" opacity="0.55"/><path d="M2243.05 1379.6 L2244.45 1379.6 L2246.61 1797.2 L2245.21 1797.2 Z" fill="#F7F9FE" opacity="0.45"/><path d="M2249.40 1379.6 L2252.40 1379.6 L2254.44 1797.2 L2251.44 1797.2 Z" fill="#F7F9FE" opacity="0.35"/><path d="M2210.90 1325.8 L2272.10 1325.8 Q2273.30 1325.8 2273.30 1327.0 L2273.51 1379.6 L2210.05 1379.6 L2209.70 1327.0 Z" fill="#F5B7CD"/><path d="M2210.90 1325.8 L2272.10 1325.8 Q2273.30 1325.8 2273.30 1327.0 L2273.30 1336.8 L2209.70 1338.8 Z" fill="#FBD3DF" opacity="0.45"/><path d="M2212.80 1797.2 L2275.13 1797.2 L2274.80 1840.3 Q2274.70 1842.3 2272.80 1842.3 L2215.10 1842.3 Q2213.10 1842.3 2213.30 1840.3 Z" fill="#F8BED0"/><path d="M2203.40 1326.8 L2209.70 1328.8 L2210.30 1352 L2203.90 1356 Z" fill="#F3F1F4"/><path d="M2207.00 1329.8 L2210.10 1330.8 L2210.50 1358 L2207.40 1358 Z" fill="#3a3434" opacity="0.55"/><path d="M2207.00 1832 L2213.40 1832 L2213.40 1843.3 L2207.00 1843.3 Z" fill="#fff"/><path d="M2209.70 1832 L2213.40 1832 L2213.40 1841.3 Z" fill="#3b3030" opacity="0.8"/><path d="M2279.31 1379.6 L2340.55 1379.6 L2341.68 1797.2 L2280.93 1797.2 Z" fill="url(#radBody)"/><path d="M2305.64 1379.6 L2307.84 1379.6 L2309.25 1797.2 L2307.05 1797.2 Z" fill="#F7F9FE" opacity="0.55"/><path d="M2311.15 1379.6 L2312.55 1379.6 L2313.92 1797.2 L2312.52 1797.2 Z" fill="#F7F9FE" opacity="0.45"/><path d="M2317.28 1379.6 L2320.28 1379.6 L2321.59 1797.2 L2318.59 1797.2 Z" fill="#F7F9FE" opacity="0.35"/><path d="M2280.30 1325.8 L2339.20 1325.8 Q2340.40 1325.8 2340.40 1327.0 L2340.55 1379.6 L2279.31 1379.6 L2279.10 1327.0 Z" fill="#F4B5CC"/><path d="M2280.30 1325.8 L2339.20 1325.8 Q2340.40 1325.8 2340.40 1327.0 L2340.40 1336.8 L2279.10 1338.8 Z" fill="#FBD3DF" opacity="0.45"/><path d="M2280.93 1797.2 L2341.68 1797.2 L2341.30 1840.3 Q2341.20 1842.3 2339.30 1842.3 L2283.10 1842.3 Q2281.10 1842.3 2281.30 1840.3 Z" fill="#F8BED0"/><path d="M2272.80 1326.8 L2279.10 1328.8 L2279.70 1347 L2273.30 1351 Z" fill="#F3F1F4"/><path d="M2276.40 1329.8 L2279.50 1330.8 L2279.90 1353 L2276.80 1353 Z" fill="#3a3434" opacity="0.55"/><path d="M2275.00 1832 L2281.40 1832 L2281.40 1843.3 L2275.00 1843.3 Z" fill="#fff"/><path d="M2277.70 1832 L2281.40 1832 L2281.40 1841.3 Z" fill="#3b3030" opacity="0.8"/><path d="M2346.35 1379.6 L2408.14 1379.6 L2408.47 1797.2 L2347.48 1797.2 Z" fill="url(#radBody)"/><path d="M2372.92 1379.6 L2375.12 1379.6 L2375.90 1797.2 L2373.70 1797.2 Z" fill="#F7F9FE" opacity="0.55"/><path d="M2378.48 1379.6 L2379.88 1379.6 L2380.59 1797.2 L2379.19 1797.2 Z" fill="#F7F9FE" opacity="0.45"/><path d="M2384.66 1379.6 L2387.66 1379.6 L2388.29 1797.2 L2385.29 1797.2 Z" fill="#F7F9FE" opacity="0.35"/><path d="M2347.40 1325.8 L2406.90 1325.8 Q2408.10 1325.8 2408.10 1327.0 L2408.14 1379.6 L2346.35 1379.6 L2346.20 1327.0 Z" fill="#F3B3CB"/><path d="M2347.40 1325.8 L2406.90 1325.8 Q2408.10 1325.8 2408.10 1327.0 L2408.10 1336.8 L2346.20 1338.8 Z" fill="#FBD3DF" opacity="0.45"/><path d="M2347.48 1797.2 L2408.47 1797.2 L2408.00 1840.3 Q2407.90 1842.3 2406.00 1842.3 L2349.60 1842.3 Q2347.60 1842.3 2347.80 1840.3 Z" fill="#F8BED0"/><path d="M2339.90 1326.8 L2346.20 1328.8 L2346.80 1342 L2340.40 1346 Z" fill="#F3F1F4"/><path d="M2343.50 1329.8 L2346.60 1330.8 L2347.00 1348 L2343.90 1348 Z" fill="#3a3434" opacity="0.55"/><path d="M2341.50 1832 L2347.90 1832 L2347.90 1843.3 L2341.50 1843.3 Z" fill="#fff"/><path d="M2344.20 1832 L2347.90 1832 L2347.90 1841.3 Z" fill="#3b3030" opacity="0.8"/><path d="M2413.94 1379.6 L2475.32 1379.6 L2475.48 1797.2 L2414.27 1797.2 Z" fill="url(#radBody)"/><path d="M2440.33 1379.6 L2442.53 1379.6 L2442.79 1797.2 L2440.59 1797.2 Z" fill="#F7F9FE" opacity="0.55"/><path d="M2445.86 1379.6 L2447.26 1379.6 L2447.50 1797.2 L2446.10 1797.2 Z" fill="#F7F9FE" opacity="0.45"/><path d="M2452.00 1379.6 L2455.00 1379.6 L2455.22 1797.2 L2452.22 1797.2 Z" fill="#F7F9FE" opacity="0.35"/><path d="M2415.10 1325.8 L2474.10 1325.8 Q2475.30 1325.8 2475.30 1327.0 L2475.32 1379.6 L2413.94 1379.6 L2413.90 1327.0 Z" fill="#F1B1CA"/><path d="M2415.10 1325.8 L2474.10 1325.8 Q2475.30 1325.8 2475.30 1327.0 L2475.30 1336.8 L2413.90 1338.8 Z" fill="#FBD3DF" opacity="0.45"/><path d="M2414.27 1797.2 L2475.48 1797.2 L2475.00 1840.3 Q2474.90 1842.3 2473.00 1842.3 L2416.30 1842.3 Q2414.30 1842.3 2414.50 1840.3 Z" fill="#F8BED0"/><path d="M2407.60 1326.8 L2413.90 1328.8 L2414.50 1337 L2408.10 1341 Z" fill="#F3F1F4"/><path d="M2411.20 1329.8 L2414.30 1330.8 L2414.70 1343 L2411.60 1343 Z" fill="#3a3434" opacity="0.55"/><path d="M2408.20 1832 L2414.60 1832 L2414.60 1843.3 L2408.20 1843.3 Z" fill="#fff"/><path d="M2410.90 1832 L2414.60 1832 L2414.60 1841.3 Z" fill="#3b3030" opacity="0.8"/><path d="M2481.12 1379.6 L2542.60 1379.6 L2542.60 1797.2 L2481.28 1797.2 Z" fill="url(#radBody)"/><path d="M2507.56 1379.6 L2509.76 1379.6 L2509.85 1797.2 L2507.65 1797.2 Z" fill="#F7F9FE" opacity="0.55"/><path d="M2513.09 1379.6 L2514.49 1379.6 L2514.57 1797.2 L2513.17 1797.2 Z" fill="#F7F9FE" opacity="0.45"/><path d="M2519.24 1379.6 L2522.24 1379.6 L2522.30 1797.2 L2519.30 1797.2 Z" fill="#F7F9FE" opacity="0.35"/><path d="M2482.30 1325.8 L2537.60 1325.8 Q2542.60 1325.8 2542.60 1330.8 L2542.60 1379.6 L2481.12 1379.6 L2481.10 1327.0 Z" fill="#EFAFC9"/><path d="M2482.30 1325.8 L2537.60 1325.8 Q2542.60 1325.8 2542.60 1330.8 L2542.60 1336.8 L2481.10 1338.8 Z" fill="#FBD3DF" opacity="0.45"/><path d="M2481.28 1797.2 L2542.60 1797.2 L2542.10 1840.3 Q2542.00 1842.3 2540.10 1842.3 L2483.30 1842.3 Q2481.30 1842.3 2481.50 1840.3 Z" fill="#F8BED0"/><path d="M2474.80 1326.8 L2481.10 1328.8 L2481.70 1332 L2475.30 1336 Z" fill="#F3F1F4"/><path d="M2478.40 1329.8 L2481.50 1330.8 L2481.90 1338 L2478.80 1338 Z" fill="#3a3434" opacity="0.55"/><path d="M2475.20 1832 L2481.60 1832 L2481.60 1843.3 L2475.20 1843.3 Z" fill="#fff"/><path d="M2477.90 1832 L2481.60 1832 L2481.60 1841.3 Z" fill="#3b3030" opacity="0.8"/><rect x="2543.0" y="1330.6" width="10" height="25.6" rx="2.4" fill="#2E2E31"/><rect x="2545.6" y="1333" width="2.2" height="21" fill="#6F6F73" opacity="0.8"/><rect x="2552.4" y="1334.4" width="4.6" height="17.6" rx="1.8" fill="#EDEDF0" stroke="#C9C9CE" stroke-width="0.5"/><rect x="2542.2999999999997" y="1802" width="4.2" height="26" rx="2" fill="#3F3F42"/><rect x="2130" y="1799.5" width="13.6" height="31" rx="5" fill="#EEEEF2" stroke="#CFCFD6" stroke-width="0.6"/><path d="M2123.6 1806 L2130.4 1801.6 V1828.6 L2123.8 1823.5 Z" fill="#9E9A90"/><rect x="2125.6" y="1808" width="3.2" height="11" fill="#E9E9E6"/><rect x="2127.8" y="1810.5" width="2" height="6" fill="#3C3A36"/><path d="M2066 1336 Q2066 1325.5 2076 1325.5 H2089.8 Q2092 1330 2090 1336 Z" fill="#B9B9BE"/><path d="M2098.9 1329.5 L2104 1327 L2113.8 1328.5 V1341 L2105 1343.2 L2098.9 1339.8 Z" fill="#F2F2F5" stroke="#CFCFD6" stroke-width="0.5"/><path d="M2102 1341.8 L2114.8 1339 V1354.6 L2106.5 1357 Z" fill="#A7A7AD"/><rect x="2114.6" y="1332.4" width="14.6" height="19.6" fill="url(#brass)"/><rect x="2128.8" y="1327.6" width="9.6" height="29" rx="3.4" fill="#F1F1F4" stroke="#D2D2D8" stroke-width="0.6"/><path d="M2066.4 1338.5 Q2082 1328 2100.5 1340 L2106.5 1366 Q2090 1352 2064.8 1362 Z" fill="#EDEDF1" stroke="#D0D0D6" stroke-width="0.5"/><rect x="2070.6" y="1348.8" width="1.8" height="6.4" rx="0.9" fill="#8F9096" opacity="0.75"/><rect x="2077.7" y="1345.2" width="1.8" height="6.4" rx="0.9" fill="#8F9096" opacity="0.75"/><rect x="2084.9" y="1343.8" width="1.8" height="6.4" rx="0.9" fill="#8F9096" opacity="0.75"/><rect x="2091.2999999999997" y="1344.6" width="1.8" height="6.4" rx="0.9" fill="#8F9096" opacity="0.75"/><rect x="2096.9" y="1347.3999999999999" width="1.8" height="6.4" rx="0.9" fill="#8F9096" opacity="0.75"/><ellipse cx="2087" cy="1369.4" rx="20.6" ry="18.6" transform="rotate(-18 2087 1369.4)" fill="#DCDCE1"/><ellipse cx="2086.6" cy="1368.6" rx="19.6" ry="17.6" transform="rotate(-18 2086.6 1368.6)" fill="#F4F4F7"/><ellipse cx="2087.4" cy="1370.6" rx="14.6" ry="13" transform="rotate(-18 2087.4 1370.6)" fill="none" stroke="#E2E2E7" stroke-width="1"/><path d="M2080.4 1372.6 L2093.6 1367.6" stroke="#B9B9BF" stroke-width="1"/><rect x="2072.8" y="1335.2" width="6.6" height="3.4" rx="1.6" transform="rotate(-14 2076 1337)" fill="#D4141C"/></g><path d="M256.5 1166 C256 1260 262 1380 268.5 1474" stroke="#7F8288" stroke-width="4" fill="none"/><path d="M256.5 1166 C256 1260 262 1380 268.5 1474" stroke="#B5B7BC" stroke-width="0.9" fill="none" opacity="0.7"/><path d="M243 1448 C262 1444 272 1452 276 1470 C285 1510 318 1560 318.5 1585 C319 1606 300 1613.5 284 1612.8 C262 1611 252 1560 256.5 1522" stroke="#7F8288" stroke-width="3.8" fill="none"/><path d="M243 1448 C262 1444 272 1452 276 1470 C285 1510 318 1560 318.5 1585 C319 1606 300 1613.5 284 1612.8 C262 1611 252 1560 256.5 1522" stroke="#B5B7BC" stroke-width="0.9" fill="none" opacity="0.7"/><rect x="232" y="949" width="10.2" height="496" fill="url(#chr)"/><path d="M237.2 953 V947.5 Q237.2 936.1 250 933.9 L343 919.7 Q358.6 917.5 358.6 934.5 V965" stroke="#C4C6CB" stroke-width="9.6" fill="none" stroke-linejoin="round"/><path d="M234.6 953 V946.5 Q234.8 934 249.6 931.7 L342.6 917.5 Q352 916.1 357 920.5" stroke="#F3F4F6" stroke-width="3" fill="none"/><path d="M239.6 953 V948.5 Q239.6 938.9 250.6 936.9 L343.6 922.7 Q355.2 921.1 355.4 934.5" stroke="#5D6066" stroke-width="2.6" fill="none"/><path d="M358.8 929 V966" stroke="#17181B" stroke-width="7.4" fill="none"/><path d="M354.6 926 V962" stroke="#E7E8EB" stroke-width="1.8" fill="none"/><path d="M353.4 961 H364.2 L366 978 H351.6 Z" fill="#26282C"/><path d="M352.2 962.5 Q350.8 970 353 976" stroke="#DADBDF" stroke-width="1.6" fill="none"/><path d="M304.6 973.6 L316 973.2 L352 977.4 L352 985 L316 985.4 L304.6 984.8 Z" fill="#AEB1B7"/><path d="M304.6 973.6 L315.6 973.2 L315.6 977.6 L304.6 977.8 Z M304.6 981.4 L315 981.2 L315 985.2 L304.6 984.8Z" fill="#1B1C1F"/><path d="M306 978 L350 979.6 L350 981.6 L306 980.8 Z" fill="#F2F3F5"/><path d="M415.6 974.4 L404 974.2 L366 977.4 V985 L404 984.4 L412.6 983.8 Z" fill="#AEB1B7"/><path d="M415.6 974.4 L405 974.2 L405 978.4 L415.6 978.6 Z M412.8 981 L401 981.2 L401 984.6 L412.8 984 Z" fill="#1B1C1F"/><path d="M368 979.6 L412 978.8 L412 980.8 L368 981.8 Z" fill="#F2F3F5"/><path d="M323 972.6 L352 978 L352 981 L322.6 975 Z" fill="#5A5D63"/><path d="M400.4 970.6 L366 977.6 L366 980.6 L401.4 973.4 Z" fill="#3A3C41"/><path d="M401.2 969 L404.2 968.6 L404.8 975 L401.6 975.4 Z" fill="#E4E5E8"/><rect x="345.4" y="966.2" width="4.6" height="6.4" fill="#1B1C1F"/><rect x="375.8" y="966.2" width="5.2" height="6" fill="#1B1C1F"/><path d="M350 969 L356 974 L356 978 L349 973 Z M375.8 969 L368 974.6 L368 978.4 L376.6 972.6 Z" fill="#C5C7CC"/><path d="M320 986.8 L350 982.6 L352 985 L322 989.6 Z" fill="#D7D8DC"/><path d="M398 986.6 L368 982.8 L366 985.4 L394 989.8 Z" fill="#D7D8DC"/><path d="M341 984.6 H347.6 L347 992 H340.4 Z M366.6 984.6 H372.8 L373.2 992 H367.4 Z" fill="#B9BBC1"/><path d="M347.6 983.4 H366.8 L366 990.6 H348.4 Z" fill="#4B4E54"/><rect x="349.6" y="984.8" width="1.4" height="6.2" fill="#D9DADE"/><rect x="352.8" y="984.8" width="1.4" height="6.2" fill="#D9DADE"/><rect x="356" y="984.8" width="1.4" height="6.2" fill="#D9DADE"/><rect x="359.2" y="984.8" width="1.4" height="6.2" fill="#D9DADE"/><rect x="362.4" y="984.8" width="1.4" height="6.2" fill="#D9DADE"/><rect x="365" y="984.8" width="1.4" height="6.2" fill="#D9DADE"/><rect x="230.3" y="1053.5" width="13" height="33" rx="1" fill="url(#chr)"/><path d="M212.4 1066.2 Q211.6 1070 212.6 1075.6 L224 1078.8 L230.4 1076 V1065 L224 1062.6 Z" fill="#8E9197"/><path d="M216 1064.4 L224 1062.8 L224 1078.6 L216.6 1076.8 Z" fill="#C9CBD0"/><path d="M224 1066 H230.4 V1075 H224 Z" fill="#3A3C41"/><path d="M266.8 1090 L275.8 1095.6 L264.6 1149.4 L253.4 1148.4 Z" fill="url(#hnd)" stroke="#A9ACB2" stroke-width="0.6"/><path d="M259.4 1071.4 Q261 1061 281 1055.6 L298 1073.6 L270 1089.6 Z" fill="url(#hsBody)"/><path d="M266.8 1063 L273.2 1059.6 L281.4 1081 L275 1085 Z" fill="#8E9197"/><path d="M262 1066.6 L266.6 1063.4 L273.8 1085 L269.6 1087.2 Z" fill="#F5F6F8"/><ellipse cx="285.2" cy="1084.4" rx="16.6" ry="12" transform="rotate(-33 285.2 1084.4)" fill="#C3C5CA"/><ellipse cx="285.6" cy="1085" rx="14.6" ry="10.2" transform="rotate(-33 285.6 1085)" fill="#8F9298"/><ellipse cx="286.4" cy="1085.4" rx="8.4" ry="5.8" transform="rotate(-33 286.4 1085.4)" fill="#9EA1A7"/><ellipse cx="285.6" cy="1085" rx="12" ry="8.4" transform="rotate(-33 285.6 1085)" fill="none" stroke="#55585E" stroke-width="1.1" stroke-dasharray="0.9 1.9"/><path d="M223 1144.4 L228 1143.2 L232 1147.4 L258 1148 L264 1149.4 L262 1153 L224 1151 Z" fill="#9A9DA3"/><rect x="216" y="1148.6" width="51.6" height="17.4" rx="3" fill="url(#chrH)"/><rect x="249.6" y="1148.6" width="1.2" height="17.4" fill="#8D9096"/><ellipse cx="217.4" cy="1156.8" rx="5.4" ry="9.2" fill="#7F8288"/><ellipse cx="216.6" cy="1156.4" rx="3.4" ry="7" fill="#9FA2A8"/><rect x="228.6" y="1441" width="15.4" height="34" rx="1.2" fill="url(#chr)"/><rect x="219.4" y="1450.2" width="9.6" height="4.2" rx="1.6" fill="#A5A8AE"/><circle cx="220.4" cy="1452.4" r="3.6" fill="#C9CBD0" stroke="#7F8288" stroke-width="0.8"/><rect x="243.6" y="1450.2" width="6" height="4.2" rx="1.6" fill="#A5A8AE"/><circle cx="249" cy="1452.2" r="2.6" fill="#C9CBD0" stroke="#7F8288" stroke-width="0.7"/><ellipse cx="196" cy="1484.2" rx="14.6" ry="14.4" fill="#7D8086"/><ellipse cx="197.4" cy="1484.4" rx="11.4" ry="11.6" fill="#D7D9DD"/><ellipse cx="199.4" cy="1485" rx="8" ry="8.6" fill="#55585E"/><path d="M190 1478.6 L207 1477 L214 1480.4 V1492.4 L205 1496.6 L190 1492.6 Z" fill="#C2C4C9"/><path d="M192.4 1481.4 L205 1480 L205 1494 L192.4 1490.6 Z" fill="#2C2E32"/><path d="M205.6 1480.2 L214 1481 V1492 L205.6 1495.6 Z" fill="#F1F2F4"/><path d="M213.6 1480 L222 1474.6 H252.2 V1498.6 H231 L213.6 1492.6 Z" fill="#1C1D20"/><path d="M222.4 1474.6 H252 V1478.2 H222.4 Z" fill="#B9BBC0"/><path d="M214 1481 L222.6 1478.4 V1494 L214 1492 Z" fill="#E4E5E8"/><path d="M243 1470 Q252 1466 258 1470.6 L262 1476 H243 Z" fill="#9C9FA5"/><path d="M252.4 1476.6 L271.6 1472.6 L273 1482 L268.2 1487.8 L265.4 1522.4 L256.2 1524.6 L254 1500 Z" fill="url(#lev)"/><path d="M264 1476 L271.6 1474 L272.4 1481.6 L267.4 1487.4 L264.8 1489 Z" fill="#F5F6F8"/><ellipse cx="757.5" cy="1495" rx="27.8" ry="29" fill="#D9D9D8"/><ellipse cx="759.5" cy="1492.5" rx="25.4" ry="25.6" fill="#77777A"/><path d="M733 1500 Q736 1476 760 1468 Q780 1466 783 1486 Q770 1474 752 1482 Q738 1490 738 1512 Z" fill="#2B2B2D"/><ellipse cx="768" cy="1483" rx="11" ry="8" fill="#9C9C9E"/><ellipse cx="766" cy="1479" rx="3" ry="2.2" fill="#1E1E20"/><path d="M742 1514 Q752 1524 766 1520 Q758 1510 748 1504 Z" fill="#F4F4F4"/><path d="M744 1484 L753 1474 L808 1530 L808 1550 Z" fill="#E8E8E8"/><path d="M747 1481 L751.6 1476.6 L808 1534 L808 1542 Z" fill="#2F2F31"/><path d="M744.6 1484.6 L746.6 1482 L808 1543.6 L808 1549 Z" fill="#B7B7B9"/><path d="M795.6 1446 H850 L848 1456 L841 1462 V1470 H801 V1462 L797 1456 Z" fill="#C4C4C3"/><path d="M812 1446 H836 V1462 H812 Z" fill="#6E6E6E"/><path d="M800 1447 L812 1446 V1462 L803 1460 Z" fill="#F4F4F4"/><rect x="800.8" y="1460" width="40.2" height="37" fill="url(#drain)"/><rect x="804" y="1496" width="36.4" height="26" fill="url(#drain)"/><rect x="800.8" y="1495.6" width="40.2" height="1.2" fill="#ECECEC"/><rect x="805.6" y="1521" width="33.6" height="94" fill="url(#drain)"/><rect x="804" y="1521" width="36.4" height="1.6" fill="#6A6A6A"/><path d="M626 1461.8 L1121.3 1390 L1122.4 1395.6 L632.4 1470 Q626 1469.4 623.4 1464 Z" fill="#3F3F3D"/><path d="M627 1462.4 L1121.3 1390.4 L1121.5 1392 L628.6 1464.4 Z" fill="#E4E4E2"/><path d="M632.4 1469.6 L1122.4 1395.4 L1116 1401 L1000 1425 L850 1451 L796 1453 L690 1476 Q650 1480 632.4 1469.6 Z" fill="url(#skUnder)"/><path d="M534 1343.6 L977.2 1285.6 Q981 1285.2 984 1287.6 L1119.6 1387 Q1123.4 1390 1119 1391.4 L630 1461.6 Q625.6 1462 623.4 1458.6 L530.8 1350.4 Q528.6 1344.6 534 1343.6 Z" fill="url(#skTop)"/><g clip-path="url(#skClip)"><path d="M530 1344 L978 1285 L984 1303 L537 1364.6 Z" fill="url(#skBack)"/><path d="M975 1300 L990 1292 L1075 1356 L1040 1362 Z" fill="#DADAD8" opacity="0.6" filter="url(#skBlur)"/><path d="M990 1325 L1012 1322 L1072 1382 L1030 1394 Z" fill="#8C8C8A" opacity="0.3" filter="url(#skBlur)"/><path d="M1075 1372 L1110 1384 L1100 1396 L1050 1400 Z" fill="#F2F2F1" opacity="0.7" filter="url(#skBlur)"/><ellipse cx="833" cy="1370" rx="152" ry="55" transform="rotate(-6 833 1370)" fill="#9E9E9B" filter="url(#skBlur)"/><ellipse cx="836" cy="1369" rx="143" ry="50" transform="rotate(-6 836 1369)" fill="#C6C6C4" filter="url(#skBlur1)"/><ellipse cx="820" cy="1366" rx="118" ry="44" transform="rotate(-7 820 1366)" fill="url(#skBowlI)" filter="url(#skBlur1)"/><path d="M672 1392 Q690 1378 722 1384 Q700 1388 706 1398 Q722 1412 748 1412 Q700 1420 676 1404 Q668 1398 672 1392 Z" fill="#7E7E7B" filter="url(#skBlur1)"/><path d="M690 1392 Q700 1386 716 1389 Q704 1394 712 1402 Q724 1408 738 1410 Q706 1412 694 1402 Q686 1396 690 1392 Z" fill="#E6E6E4" filter="url(#skBlur1)"/><path d="M748 1410 Q800 1428 860 1424 L900 1416 Q840 1414 790 1398 Z" fill="#8E8E8B" opacity="0.55" filter="url(#skBlur)"/><path d="M909 1312 C930 1330 956 1350 960 1376 C962 1396 950 1406 936 1411" stroke="#2E2E2D" stroke-width="7" fill="none" filter="url(#skBlur1)"/><path d="M920 1314 C944 1330 968 1352 971 1380 C972 1398 960 1408 946 1413" stroke="#F4F4F3" stroke-width="4" fill="none" filter="url(#skBlur1)"/><path d="M902 1316 C920 1334 944 1352 949 1376 C951 1394 940 1404 926 1410" stroke="#9A9A98" stroke-width="4" fill="none" filter="url(#skBlur1)"/><ellipse cx="890" cy="1413" rx="12" ry="2.6" fill="#3E3E3D" transform="rotate(-8 890 1413)"/><path d="M916 1404 l14 -3 l2 3 l-14 3 Z" fill="#4a4a48"/></g><rect x="888" y="1439.8" width="14.7" height="60" fill="#0093DD"/><rect x="936.8" y="1434.3" width="14.8" height="60" fill="#DA251D"/><rect x="559" y="1345.6" width="6.4" height="1.6" fill="#E8E8E6" transform="rotate(-7 562 1346)"/><path d="M906.6 1229 L942.6 1226 L939 1318 Q921 1326 902.6 1316 Z" fill="url(#fauc)"/><ellipse cx="920.8" cy="1318" rx="18.2" ry="5" fill="#6E6E6C"/><path d="M908 1224 L926 1228 L896 1262 L890 1266 L886 1258 L878.6 1262.6 L876 1250 Z" fill="#B5B5B3"/><path d="M908 1224 L916 1226 L884 1254 L876.4 1251 Z" fill="#EFEFEE"/><path d="M921 1229 L926 1230 L897 1262 L893 1258 Z" fill="#6A6A68"/><path d="M884 1212.6 Q890 1210.6 900 1214 Q920 1209 942 1214 Q945 1222 942.6 1227 Q926 1232 908 1227 Q898 1220 884.6 1215 Z" fill="#C9C9C7"/><path d="M886 1213 Q904 1216 918 1212 Q930 1211 940 1214.6 Q928 1215 918 1218 Q902 1221 886 1214.4 Z" fill="#F4F4F3"/><path d="M912 1222 Q928 1226 943 1221 L942.6 1227 Q926 1232 909 1227 Z" fill="#5F5F5D"/><path d="M942 1268 L948.6 1259.6 L950.6 1261 L945 1272 Z" fill="#8E8E8C"/>
<g fill="#1F1A17" font-family="&quot;Liberation Sans&quot;, &quot;Noto Sans CJK SC&quot;, sans-serif">
<text x="2390.39 2496.29 2602.19 2708.09 2813.99" y="1076.87" font-size="105.2">散热片取暖</text>
<g stroke="#1F1A17" stroke-width="0.6" stroke-linejoin="round">
<text x="1132.84 1211.14 1289.44 1367.74" y="1249.27" font-size="78.3">采暖出水</text>
<text x="1206.07 1284.37 1362.67 1440.97" y="1509.27" font-size="78.3">生活热水</text>
<text x="1408.54 1488.54" y="2124.2" font-size="80">燃气</text>
<text x="1751.46 1831.46 1911.46" y="2124.2" font-size="80">自来水</text>
<text x="628.7 690.2 751.7" y="1249.32" font-size="60.5">洗手盆</text>
<text x="311.64 311.64" y="1218.36 1282.06" font-size="59">卫浴</text>
<text x="1801.37 1801.37 1801.37 1801.37" y="1428.77 1507.77 1586.77 1665.77" font-size="78.3">采暖回水</text>
</g>
<g stroke="#1F1A17" stroke-width="0.5" stroke-linejoin="round">
<text x="2045.56 2045.56 2045.56 2045.56 2045.56" y="1450.92 1494.77 1538.62 1582.47 1626.32" font-size="44">手动温控阀</text>
<text x="2743.56 2743.56 2743.56 2743.56 2743.56" y="1433.42 1477.27 1521.12 1564.97 1608.82" font-size="44">手动温控阀</text>
</g>
</g>
<path d="M1485.3 1187.9 L1493.3 1187.9 L1493.3 1255.3 L1476.9 1232.3 L1485.3 1233.4Z" fill="#1F1A17"/><path d="M1548.9 1449.2 L1556.9 1449.2 L1556.9 1516.8 L1540.9 1493.7 L1548.9 1494.7Z" fill="#1F1A17"/><path d="M1772.6 1443.9 L1788.6 1466.3 L1780.9 1466.9 L1780.9 1511.0 L1772.6 1511.0Z" fill="#1F1A17"/><path d="M1608.4 2048.3 L1608.4 2115.9 L1600.2 2115.9 L1600.2 2071.0 L1592.2 2071.7Z" fill="#1F1A17"/><path d="M1713.5 2048.3 L1729.9 2071.7 L1721.9 2071.1 L1721.9 2115.9 L1713.5 2115.9Z" fill="#1F1A17"/><path d="M1203.0 1600.7 L1225.9 1585.0 L1225.2 1593.0 L1269.9 1593.0 L1269.9 1600.7Z" fill="#1F1A17"/><path d="M1198.9 1734.7 L1221.8 1719.0 L1221.3 1727.2 L1265.9 1727.2 L1265.9 1734.7Z" fill="#1F1A17"/>
<path d="M0 0H3513V2486H0Z M6 6V2480H3507V6Z" fill="#1F1A17" fill-rule="evenodd"/>
</svg>
</body></html>
